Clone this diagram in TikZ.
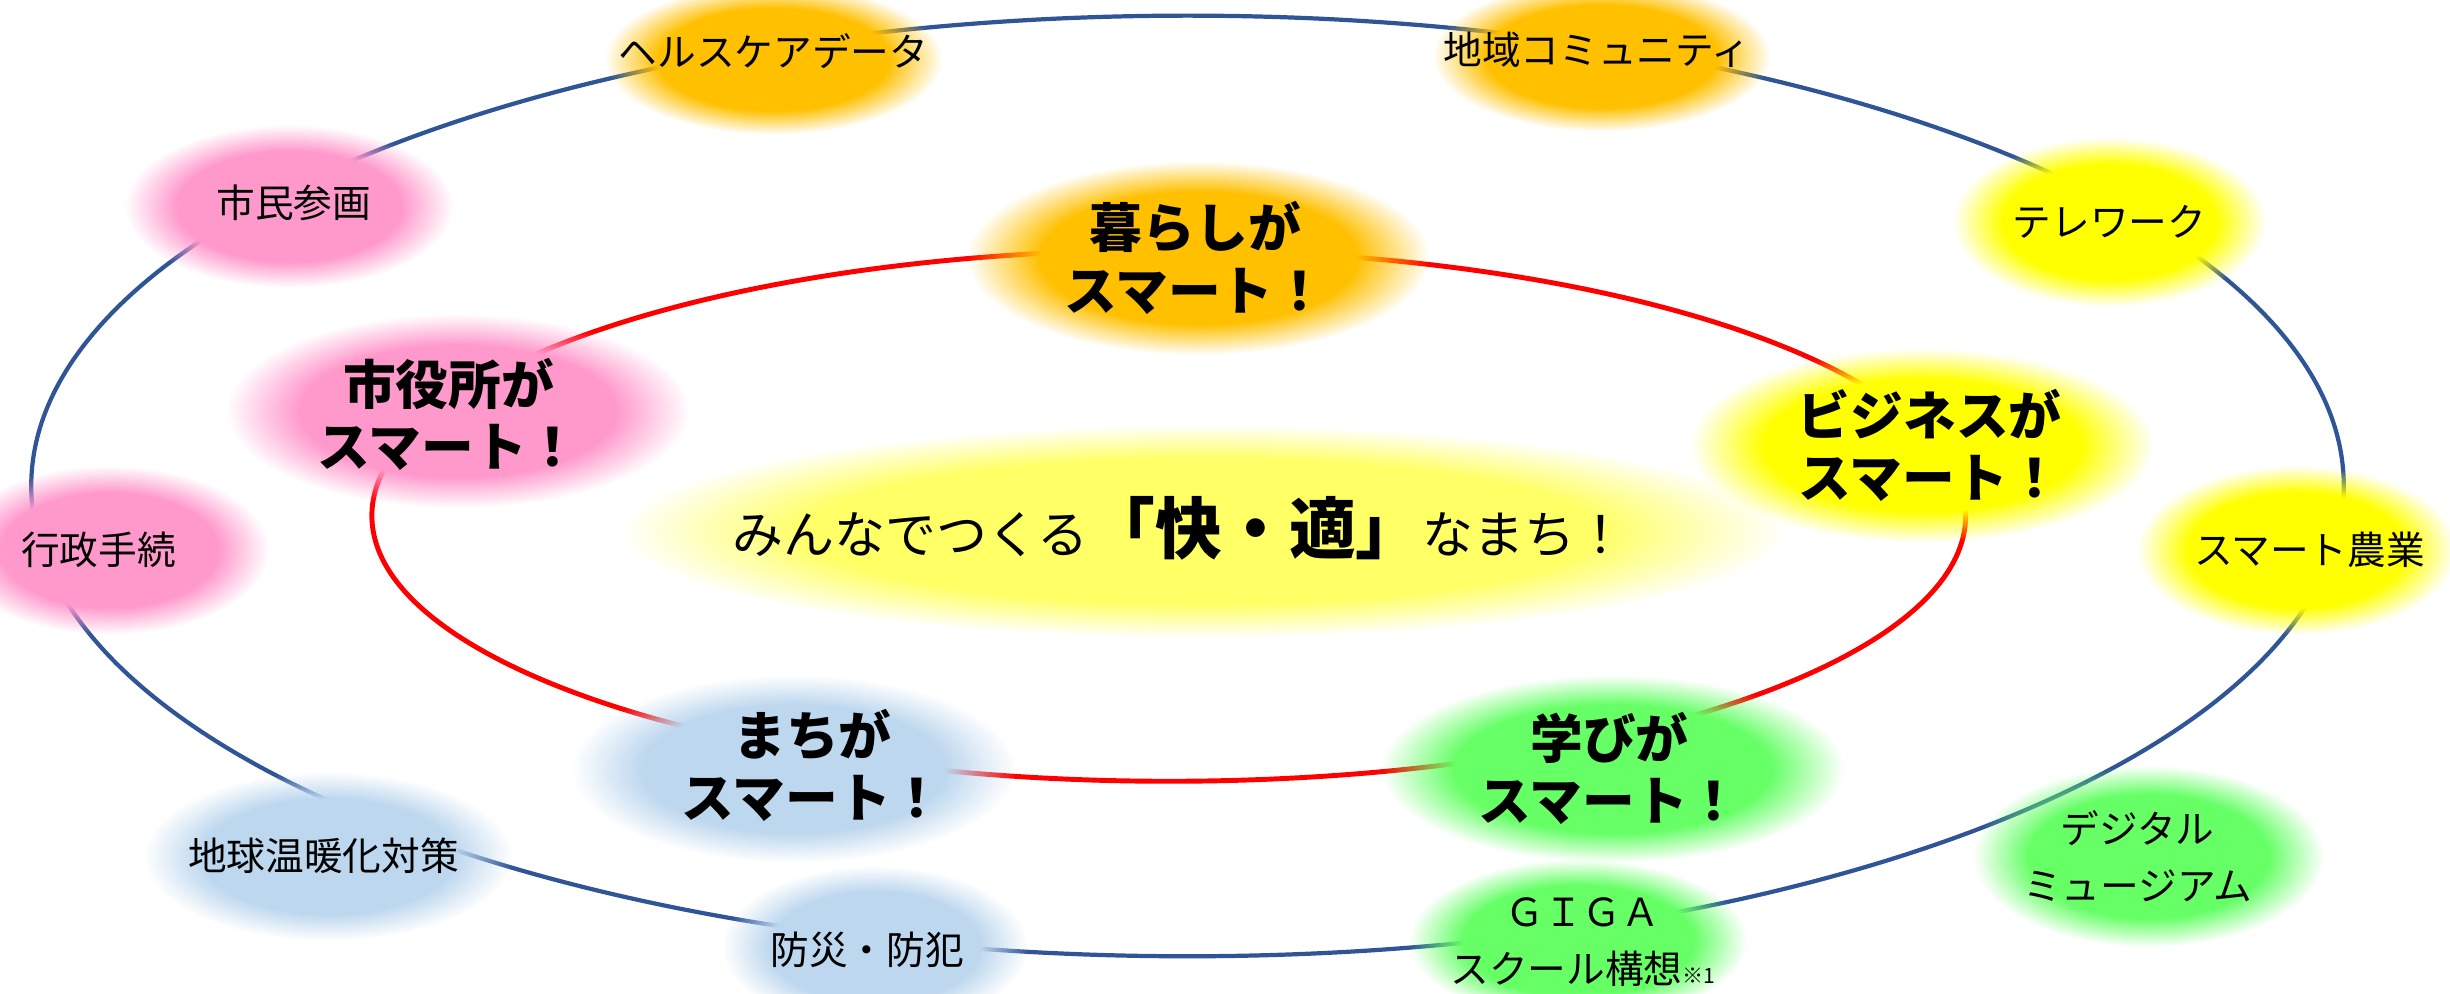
\documentclass[tikz,border=0pt]{standalone}
\usepackage{color}
\usepackage{fontspec}
\usepackage{tikz}
\usetikzlibrary{fadings}
\newfontfamily\jp{Noto Sans CJK JP}
\definecolor{ringblue}{RGB}{47,85,151}
\definecolor{ringred}{RGB}{255,0,0}
\definecolor{blobor}{RGB}{255,192,0}
\definecolor{blobpk}{RGB}{255,153,204}
\definecolor{blobye}{RGB}{255,255,0}
\definecolor{blobly}{RGB}{255,255,102}
\definecolor{blobbl}{RGB}{189,215,238}
\definecolor{blobgr}{RGB}{102,255,102}
\pgfdeclareradialshading{softshade}{\pgfpointorigin}{color(0bp)=(pgftransparent!0); color(17bp)=(pgftransparent!0); color(25bp)=(pgftransparent!100); color(50bp)=(pgftransparent!100)}
\pgfdeclarefading{softedge}{\pgfuseshading{softshade}}
\tikzset{
  blob/.style = {fill=#1, path fading=softedge},
  small/.style = {font=\jp\fontsize{11}{16.4}\selectfont, align=center, inner sep=0pt},
  big/.style = {font=\jp\bfseries\fontsize{15}{17.7}\selectfont, align=center, inner sep=0pt}
}

\begin{document}
\begin{tikzpicture}[x=0.15625mm, y=-0.15625mm]
\useasboundingbox (0,0) rectangle (1568,636);
% rings
\coordinate (outer) at (760,311);
\coordinate (inner) at (748,330);
\draw[ringblue, line width=1.2pt] (outer) ellipse (740 and 301);
\draw[ringred, line width=1.4pt] (inner) ellipse (510 and 170);
% blobs
\fill[blob=blobor] (495,38) ellipse (108 and 48);
\fill[blob=blobor] (1025,36) ellipse (108 and 48);
\fill[blob=blobpk] (185,132) ellipse (105 and 52);
\fill[blob=blobye] (1350,142) ellipse (100 and 54);
\fill[blob=blobor] (767,165) ellipse (148 and 62);
\fill[blob=blobpk] (293,263) ellipse (148 and 62);
\fill[blob=blobye] (1230,285) ellipse (148 and 62);
\fill[blob=blobpk] (70,352) ellipse (102 and 54);
\fill[blob=blobye] (1470,352) ellipse (102 and 54);
\fill[blob=blobly] (770,340) ellipse (372 and 68);
\fill[blob=blobbl] (508,492) ellipse (142 and 60);
\fill[blob=blobgr] (1032,492) ellipse (148 and 60);
\fill[blob=blobbl] (210,548) ellipse (118 and 54);
\fill[blob=blobgr] (1375,548) ellipse (112 and 58);
\fill[blob=blobbl] (560,606) ellipse (98 and 52);
\fill[blob=blobgr] (1010,602) ellipse (108 and 52);
% labels
\draw (495,33) node[small](hd){ヘルスケアデータ}
    (1022,32) node[small](cm){地域コミュニティ}
    (188,130) node[small](sm){市民参画}
    (1350,142) node[small](tw){テレワーク}
    (63,352) node[small](gs){行政手続}
    (1478,352) node[small](an){スマート農業}
    (207,548) node[small](ch){地球温暖化対策}
    (1368,548) node[small](dm){デジタル\\ミュージアム}
    (555,608) node[small](bs){防災・防犯}
    (1013,603) node[small](gg){ＧＩＧＡ\\スクール構想{\fontsize{6}{6}\selectfont ※1}};
\draw (765,165) node[big](kr){暮らしが\\スマート！}
    (287,265) node[big](sy){市役所が\\スマート！}
    (1235,285) node[big](bz){ビジネスが\\スマート！}
    (520,490) node[big](mc){まちが\\スマート！}
    (1030,492) node[big](mb){学びが\\スマート！};
\node[font=\jp\fontsize{14.5}{17}\selectfont, inner sep=0pt] (ct) at (755,338)
    {みんなでつくる{\bfseries\fontsize{19}{22}\selectfont 「快・適」}なまち！};
\end{tikzpicture}
\end{document}
